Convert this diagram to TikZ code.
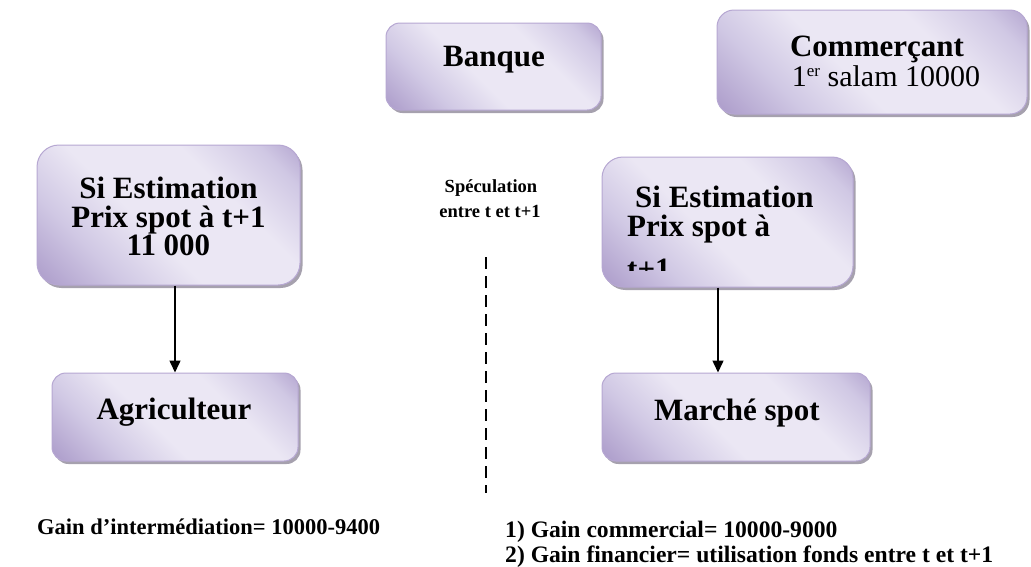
\documentclass[tikz,border=0pt]{standalone}
\usepackage{fontspec}
\setmainfont{Liberation Serif}
\usetikzlibrary{arrows.meta,shadows}

\definecolor{lavdark}{RGB}{172,156,202}
\definecolor{lavmid}{RGB}{208,200,228}
\definecolor{lavlight}{RGB}{235,231,244}
\definecolor{lavedge}{RGB}{182,167,210}
\definecolor{shadowgrey}{RGB}{166,161,174}

% diagonal lavender gradient: dark corners bottom-left / top-right, light band across
\pgfdeclarehorizontalshading{lavender}{100bp}{%
  color(0bp)=(lavdark); color(15bp)=(lavdark); color(30bp)=(lavmid);
  color(44bp)=(lavlight); color(64bp)=(lavlight); color(78bp)=(lavmid);
  color(88bp)=(lavdark); color(100bp)=(lavdark)}

\tikzset{
  box/.style={rounded corners=#1, draw=lavedge, line width=1pt,
    shading=lavender, shading angle=45, inner sep=0pt,
    general shadow={fill=shadowgrey, shadow xshift=2.5pt, shadow yshift=-3pt}},
  big/.style={font=\bfseries\fontsize{31}{31}\selectfont, inner sep=0pt},
  bigreg/.style={font=\fontsize{30}{30}\selectfont, inner sep=0pt},
  small/.style={font=\bfseries\fontsize{18.5}{18.5}\selectfont, inner sep=0pt},
  note/.style={font=\bfseries\fontsize{22.5}{22.5}\selectfont, inner sep=0pt},
  noteR/.style={font=\bfseries\fontsize{23.6}{23.6}\selectfont, inner sep=0pt},
  link/.style={line width=1.5pt, -{Triangle[width=11pt,length=12pt]}},
}

\begin{document}
\begin{tikzpicture}[x=1pt,y=-1pt]
\useasboundingbox (0,0) rectangle (1031,566);

% boxes
\node[box=14pt, minimum width=215pt, minimum height=87pt]  (banque) at (493.5,66.5) {};
\node[box=17pt, minimum width=310pt, minimum height=104pt] (comm)   at (872,62)    {};
\node[box=22pt, minimum width=263pt, minimum height=140pt] (siL)    at (168.5,215) {};
\node[box=21pt, minimum width=251pt, minimum height=130pt] (siR)    at (727.5,222) {};
\node[box=14pt, minimum width=246pt, minimum height=88pt]  (agri)   at (175,417)   {};
\node[box=14pt, minimum width=268pt, minimum height=88pt]  (marche) at (736,417)   {};

% box texts
\node[big, anchor=base] (banqueT) at (494,66) {Banque};
\node[big, anchor=base] (commT1) at (877,56) {Commerçant};
\node[bigreg, anchor=base] (commT2) at (886,86) {1{\fontsize{17}{17}\selectfont\raisebox{10pt}{er}} salam 10000};

\node[big, anchor=base] (siLT1) at (168.5,198) {Si Estimation};
\node[big, anchor=base] (siLT2) at (168.5,227) {Prix spot à t+1};
\node[big, anchor=base] (siLT3) at (168.5,255) {11 000};

\node[big, anchor=base west] (siRT1) at (635,207) {Si Estimation};
\node[big, anchor=base west] (siRT2) at (627,236) {Prix spot à};
\begin{scope}
  \clip (600,240) rectangle (860,270);
  \node[big, anchor=base west] (siRT3) at (627,279) {t+1};
\end{scope}

\node[big, anchor=base] (agriT) at (174,419) {Agriculteur};
\node[big, anchor=base] (marcheT) at (737,420) {Marché spot};

% speculation label and separator
\node[small, anchor=base] (specT1) at (491,192) {Spéculation};
\node[small, anchor=base] (specT2) at (490,217) {entre t et t+1};
\coordinate (dtop) at (486,257);
\coordinate (dbot) at (486,493);
\draw[line width=1.6pt, dash pattern=on 12pt off 7pt] (dtop) -- (dbot);

% arrows
\draw[link] (agri.north |- siL.south) -- (agri.north);
\draw[link] ([xshift=-9.5pt]siR.south) -- ([xshift=-9.5pt]siR.south |- marche.north);

% gains
\node[note, anchor=base west] (gainL) at (37,534) {Gain d’intermédiation= 10000-9400};
\node[noteR, anchor=base west] (gainR1) at (505,537) {1) Gain commercial= 10000-9000};
\node[noteR, anchor=base west] (gainR2) at (505,562) {2) Gain financier= utilisation fonds entre t et t+1};
\end{tikzpicture}
\end{document}
